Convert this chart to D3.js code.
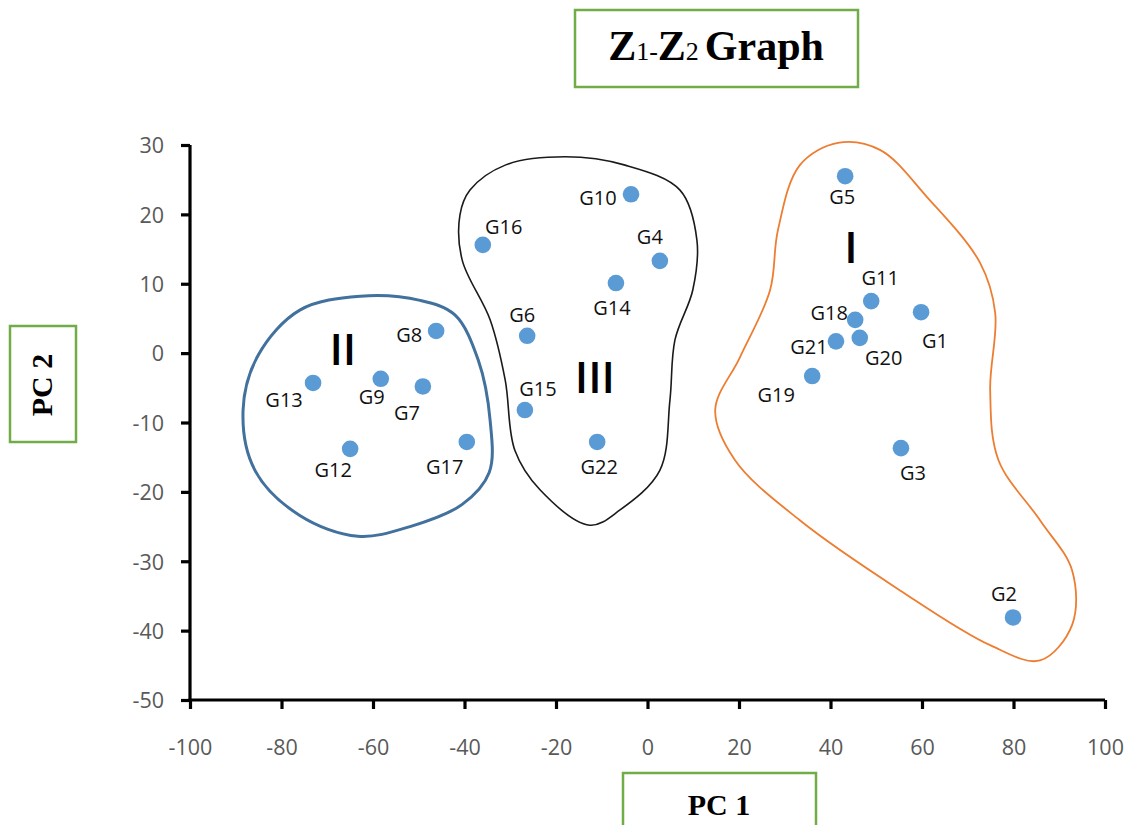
<!DOCTYPE html>
<html>
<head>
<meta charset="utf-8">
<script src="https://cdn.jsdelivr.net/npm/d3@7"></script>
<style>
  html, body { margin: 0; padding: 0; background: #fff; }
  svg { display: block; }
</style>
</head>
<body>
<svg id="chart" width="1138" height="825"></svg>
<script>
// ---------- DATA ----------
const genotypes = ["G1","G2","G3","G4","G5","G6","G7","G8","G9","G10","G11",
                   "G12","G13","G14","G15","G16","G17","G18","G19","G20","G21","G22"];
const pc1 = [59.8, 79.9, 55.4, 2.7, 43.2, -26.3, -49.1, -46.2, -58.3, -3.6, 48.9,
             -65.0, -73.1, -6.9, -26.8, -36.0, -39.5, 45.4, 36.0, 46.4, 41.2, -11.0];
const pc2 = [5.9, -38.1, -13.7, 13.3, 25.5, 2.5, -4.8, 3.2, -3.7, 22.9, 7.5,
             -13.8, -4.3, 10.1, -8.2, 15.6, -12.8, 4.8, -3.3, 2.2, 1.7, -12.8];

const xTicks = [-100, -80, -60, -40, -20, 0, 20, 40, 60, 80, 100];
const yTicks = [-50, -40, -30, -20, -10, 0, 10, 20, 30];

// Cluster outlines (PC1, PC2) as drawn by hand on the chart
const clusterI = [[41.6,30.3],[50.8,29.3],[61.1,22.5],[72.7,13.0],[76.0,5.8],[74.9,-5.3],
  [76.7,-15.4],[85.8,-24.1],[92.8,-31.3],[92.8,-39.2],[85.8,-44.3],[74.9,-42.1],
  [55.2,-34.2],[33.3,-24.1],[19.1,-15.4],[14.8,-8.2],[20.2,-0.6],[26.8,9.1],[28.5,17.7],[33.3,27.1]];
const clusterII = [[-62.8,8.2],[-49.7,7.6],[-42.1,5.5],[-37.0,-1.0],[-34.4,-9.7],[-34.6,-17.2],
  [-40.5,-21.8],[-51.9,-25.0],[-63.3,-26.4],[-76.0,-23.4],[-85.8,-16.9],[-88.4,-8.2],
  [-85.1,-0.3],[-76.0,6.2]];
const clusterIII = [[-38.8,23.5],[-31.1,27.1],[-18.0,28.3],[-4.9,27.1],[7.1,23.5],[10.8,16.3],
  [9.9,9.1],[6.0,1.9],[4.9,-6.8],[2.7,-16.9],[-6.0,-22.6],[-12.6,-24.8],[-23.5,-19.7],
  [-29.0,-14.0],[-31.1,-3.9],[-34.4,4.8],[-40.5,13.4],[-41.0,19.9]];
const clusterNames = ["I", "II", "III"];
const clusterNameAt = [[44.5, 15.3], [-66.6, 0.6], [-11.5, -3.5]];

// ---------- STYLE / LAYOUT ----------
// label offsets in pixels relative to each point (dx, dy of text centre)
const labelOffsets = {
  G1:[14,29], G2:[-9,-24], G3:[12,25], G4:[-10,-24], G5:[-3,21], G6:[-5,-21],
  G7:[-16,26], G8:[-27,4], G9:[-9,18], G10:[-33,4], G11:[9,-23], G12:[-17,21],
  G13:[-29,17], G14:[-4,25], G15:[13,-21], G16:[21,-18], G17:[-22,25], G18:[-26,-7],
  G19:[-36,19], G20:[24,20], G21:[-27,5], G22:[2,25]
};

const svg = d3.select("#chart");
const x = d3.scaleLinear().domain([-100, 100]).range([190, 1105]);
const y = d3.scaleLinear().domain([-50, 30]).range([700, 145]);

const sans = "'Open Sans', 'Noto Sans', sans-serif";
const serif = "'Liberation Serif', 'Times New Roman', serif";
const green = "#70AD47";
const fmt = d => String(d);

// ---------- AXES ----------
const yAxis = d3.axisLeft(y).tickValues(yTicks).tickFormat(fmt).tickSize(9).tickSizeOuter(0).tickPadding(17);
const gy = svg.append("g").attr("transform", `translate(${x(-100)},0)`).call(yAxis);
const xAxis = d3.axisBottom(x).tickValues(xTicks).tickFormat(fmt).tickSize(9).tickSizeOuter(0).tickPadding(30);
const gx = svg.append("g").attr("transform", `translate(0,${y(-50)})`).call(xAxis);

[gx, gy].forEach(g => {
  g.select(".domain").attr("stroke", "#000").attr("stroke-width", 3.2);
  g.selectAll(".tick line").attr("stroke", "#000").attr("stroke-width", 3.2);
  g.selectAll(".tick text").attr("fill", "#595959")
    .style("font-family", sans).style("font-size", "21.5px");
});
gy.selectAll(".tick text").attr("dy", "0.36em");
gx.selectAll(".tick text").attr("dy", "0.36em").attr("y", 47);
// extend domain lines to meet at corner
gy.select(".domain").attr("d", `M0,${y(30)}V${y(-50) + 1.6}`);
gx.select(".domain").attr("d", `M${x(-100) - 1.6},0H${x(100)}`);

// ---------- CLUSTER OUTLINES ----------
const outline = d3.line().x(d => x(d[0])).y(d => y(d[1])).curve(d3.curveCatmullRomClosed.alpha(0.5));
svg.append("path").attr("d", outline(clusterI)).attr("fill", "none")
  .attr("stroke", "#ED7D31").attr("stroke-width", 1.8);
svg.append("path").attr("d", outline(clusterII)).attr("fill", "none")
  .attr("stroke", "#41719C").attr("stroke-width", 3);
svg.append("path").attr("d", outline(clusterIII)).attr("fill", "none")
  .attr("stroke", "#1a1a1a").attr("stroke-width", 1.6);

svg.selectAll("text.cluster").data(clusterNames).enter().append("text")
  .attr("class", "cluster")
  .attr("x", (d, i) => x(clusterNameAt[i][0]))
  .attr("y", (d, i) => y(clusterNameAt[i][1]))
  .attr("dy", "0.36em")
  .attr("text-anchor", "middle")
  .style("font-family", sans).style("font-size", "44px").style("font-weight", "600")
  .attr("fill", "#000")
  .text(d => d);

// ---------- POINTS ----------
const pts = genotypes.map((g, i) => ({ g, px: pc1[i], py: pc2[i] }));
svg.selectAll("circle.pt").data(pts).enter().append("circle")
  .attr("class", "pt")
  .attr("cx", d => x(d.px)).attr("cy", d => y(d.py)).attr("r", 8.3)
  .attr("fill", "#5B9BD5");

svg.selectAll("text.lbl").data(pts).enter().append("text")
  .attr("class", "lbl")
  .attr("x", d => x(d.px) + labelOffsets[d.g][0])
  .attr("y", d => y(d.py) + labelOffsets[d.g][1])
  .attr("dy", "0.36em")
  .attr("text-anchor", "middle")
  .style("font-family", sans).style("font-size", "20px")
  .attr("fill", "#111")
  .text(d => d.g);

// ---------- TITLE & AXIS TITLE BOXES ----------
svg.append("rect").attr("x", 575).attr("y", 10).attr("width", 283).attr("height", 77)
  .attr("fill", "#fff").attr("stroke", green).attr("stroke-width", 2.5);
const title = svg.append("text").attr("x", 716).attr("y", 60).attr("text-anchor", "middle")
  .style("font-family", serif).attr("fill", "#000");
title.append("tspan").text("Z").style("font-size", "42px").style("font-weight", "bold");
title.append("tspan").text("1").style("font-size", "26px");
title.append("tspan").text("-").style("font-size", "26px");
title.append("tspan").text("Z").style("font-size", "42px").style("font-weight", "bold");
title.append("tspan").text("2").style("font-size", "26px");
title.append("tspan").text("Graph").style("font-size", "42px").style("font-weight", "bold").attr("dx", 6);

svg.append("rect").attr("x", 10).attr("y", 326).attr("width", 66).attr("height", 116)
  .attr("fill", "#fff").attr("stroke", green).attr("stroke-width", 2.5);
svg.append("text").attr("transform", "translate(52,385) rotate(-90)")
  .attr("text-anchor", "middle").style("font-family", serif)
  .style("font-size", "30px").style("font-weight", "bold").attr("fill", "#000")
  .text("PC 2");

svg.append("rect").attr("x", 623).attr("y", 773).attr("width", 193).attr("height", 70)
  .attr("fill", "#fff").attr("stroke", green).attr("stroke-width", 2.5);
svg.append("text").attr("x", 719).attr("y", 815)
  .attr("text-anchor", "middle").style("font-family", serif)
  .style("font-size", "30px").style("font-weight", "bold").attr("fill", "#000")
  .text("PC 1");
</script>
</body>
</html>
